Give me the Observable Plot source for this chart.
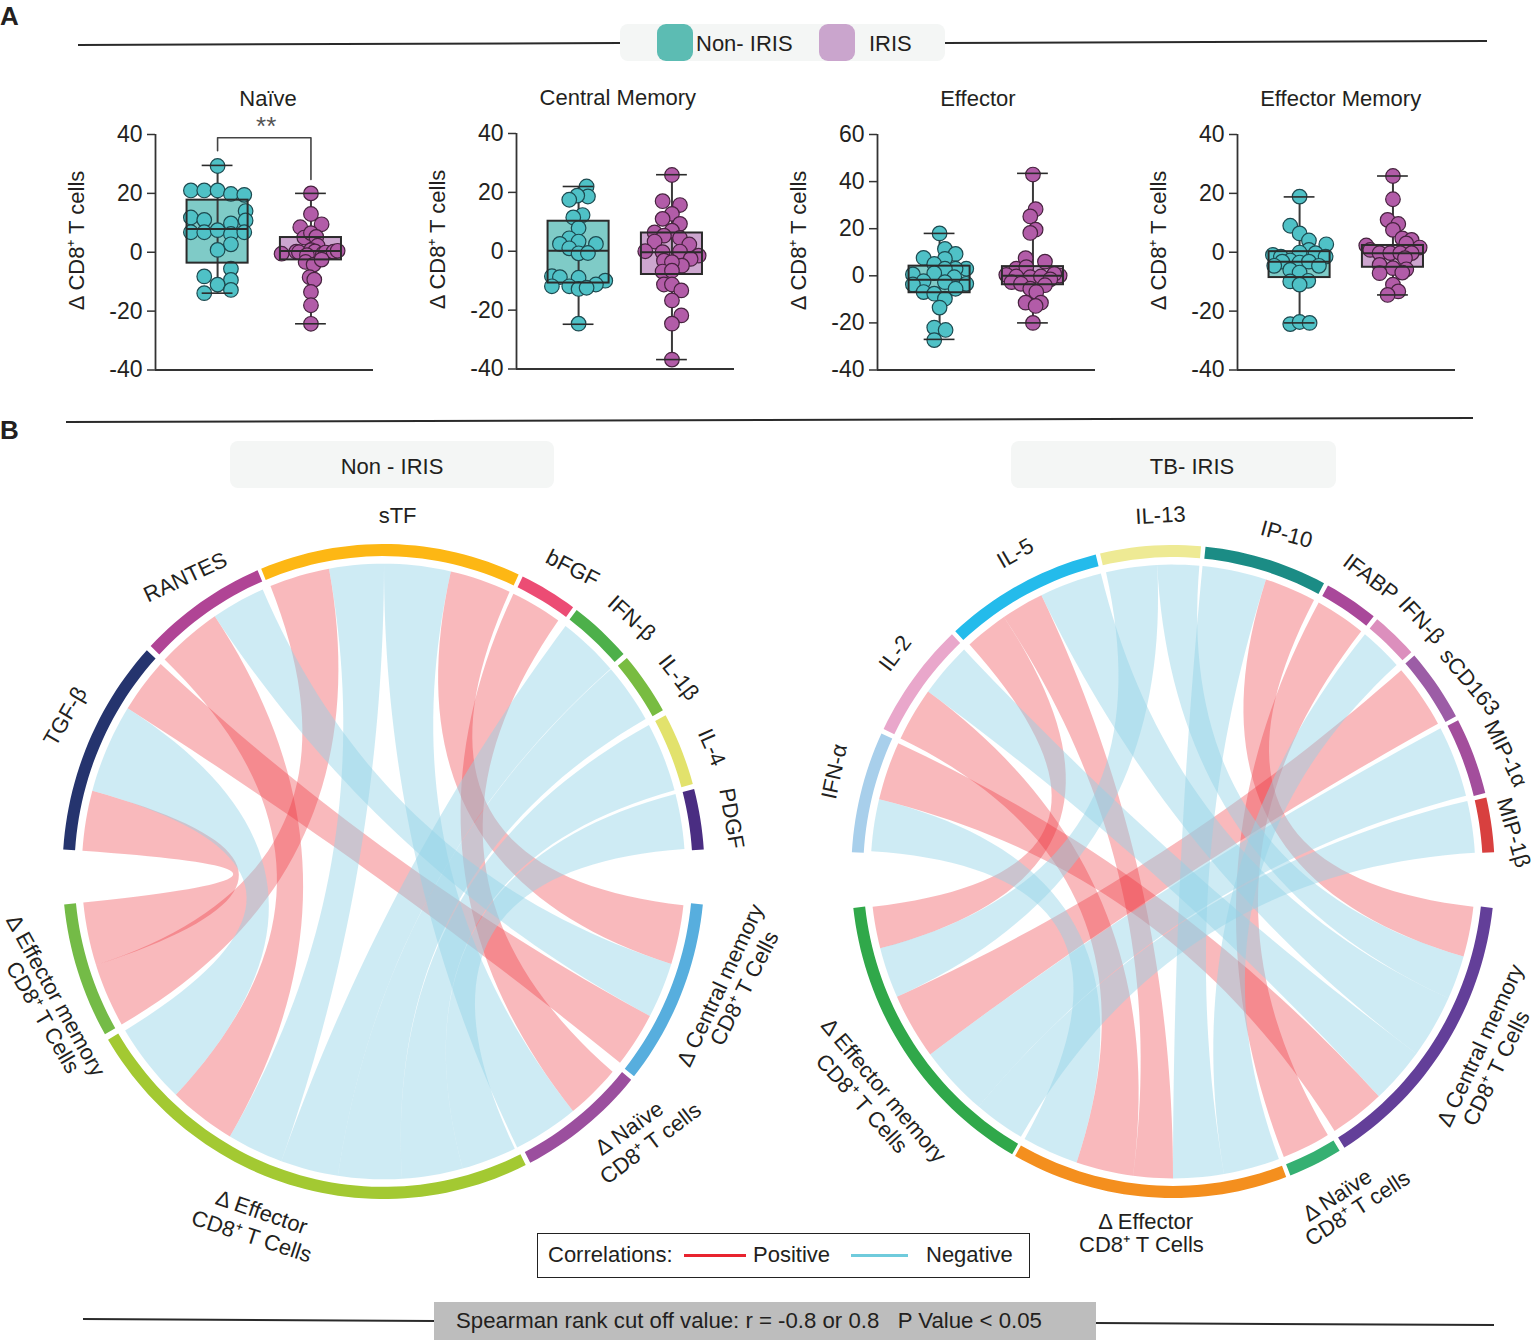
<!DOCTYPE html>
<html><head><meta charset="utf-8">
<script src="https://cdn.jsdelivr.net/npm/d3@7"></script>
<script src="https://cdn.jsdelivr.net/npm/@observablehq/plot@0.6"></script>
<style>
html,body{margin:0;padding:0;background:#fff}
#page{position:relative;width:1535px;height:1340px;overflow:hidden;font-family:"Liberation Sans",Arial,sans-serif;color:#231f20;font-size:22px}
#page>div{position:absolute;white-space:pre;line-height:1}
.holder svg{overflow:visible;background:transparent;display:block;max-width:none}
.rule{height:1.5px;background:#2a2a2a;transform-origin:0 50%}
.pill{background:#f4f6f5;border-radius:8px;display:flex;align-items:center;justify-content:center}
</style></head><body>
<div id="page">
  <div style="left:0;top:3px;font-size:26px;font-weight:bold">A</div>
  <div style="left:0;top:417px;font-size:26px;font-weight:bold">B</div>
  <div class="rule" style="left:78px;top:44px;width:542px;transform:rotate(-.21deg)"></div>
  <div class="rule" style="left:945px;top:42px;width:542px;transform:rotate(-.21deg)"></div>
  <div class="rule" style="left:66px;top:421px;width:1407px;transform:rotate(-.163deg)"></div>
  <div class="rule" style="left:83px;top:1318px;width:351px;transform:rotate(.33deg)"></div>
  <div class="rule" style="left:1096px;top:1322px;width:398px;transform:rotate(.29deg)"></div>
  <div class="pill" style="left:620px;top:24px;width:325px;height:37px"></div>
  <div style="left:657px;top:24px;width:36px;height:37px;border-radius:9px;background:#5cbcb3"></div>
  <div style="left:696px;top:33px">Non- IRIS</div>
  <div style="left:819px;top:24px;width:36px;height:37px;border-radius:9px;background:#caa5cd"></div>
  <div style="left:869px;top:33px">IRIS</div>
  <div class="pill" style="left:230px;top:441px;width:324px;height:47px;padding-top:4px;box-sizing:border-box">Non - IRIS</div>
  <div class="pill" style="left:1011px;top:441px;width:325px;height:47px;padding:4px 0 0 37px;box-sizing:border-box">TB- IRIS</div>
  <div style="left:537px;top:1233px;width:491px;height:43px;border:1.5px solid #222;box-sizing:content-box"></div>
  <div style="left:548px;top:1244px">Correlations:</div>
  <div style="left:684px;top:1254px;width:62px;height:2.5px;background:#e8232f"></div>
  <div style="left:753px;top:1244px">Positive</div>
  <div style="left:851px;top:1254px;width:57px;height:2.5px;background:#6fcbdc"></div>
  <div style="left:926px;top:1244px">Negative</div>
  <div style="left:434px;top:1302px;width:662px;height:38px;background:#bdbdbd"></div>
  <div style="left:456px;top:1310px;font-size:22.2px">Spearman rank cut off value: r = -0.8 or 0.8   P Value &lt; 0.05</div>
</div>
<script>
// ---------- Panel A: delta CD8+ T cell subsets. Each point = [swarm column, value]
const naiveNon = [[0,29.3],[-2,21],[-1,21],[0,21],[1,19.8],[2,19.5],[2.1,14],[-2,11.8],[-1,11],[1,9.8],[2.1,10.8],[-2,6.8],[-1,6.8],[0,7.5],[1,6.2],[2,6.8],[1,2.7],[0,0.8],[1,-5.6],[-1,-8.2],[1,-9.4],[0,-11],[1,-12.8],[-1,-13.9]];
const naiveIris = [[0,20],[0,13],[-.8,8.5],[.8,9.5],[-.5,5],[0,6.5],[.4,5.2],[.5,2.2],[-2.2,-.5],[-1.1,.2],[-.9,0],[0,.7],[.3,.3],[.9,-.5],[1.1,-.1],[1.7,.2],[2,.5],[-.3,-1],[-.4,-3.3],[.2,-4.2],[.8,-2.5],[-.1,-8.5],[.25,-9.3],[0,-13.5],[0,-18],[0,-24.3]];
const centralNon = [[.6,22],[.7,18.6],[-.1,18.9],[-.7,17.5],[.3,12.3],[-.4,11.5],[0,7.9],[-.7,4.4],[0,3.3],[-1.4,2.5],[1.3,2.5],[-.7,1],[0,-.7],[.7,-.6],[-2,-8.5],[-1.4,-8.8],[0,-9],[2,-10],[1.3,-11.3],[-2,-11.9],[-.7,-11.9],[0,-12.8],[.6,-12.4],[0,-24.6]];
const centralIris = [[0,25.9],[-.7,17],[.6,15.7],[0,12.7],[-.7,11],[.6,9.3],[-1.3,6.4],[0,7],[-.6,5.3],[.6,4.5],[-1.3,3.3],[1.3,2.3],[-2,0],[-.7,-.3],[.6,-.1],[2,-1.5],[1.4,-2.6],[-.6,-3.2],[.75,-4.9],[0,-3.7],[-.7,-6.9],[0,-6.6],[-.6,-11.3],[0,-11.3],[.7,-13.3],[0,-16.7],[.7,-21.8],[0,-24.6],[0,-36.8]];
const effectorNon = [[0,18],[.4,11.4],[1.2,9.3],[-1.2,7.6],[.4,7.2],[-.4,5],[2,3],[1.2,3],[.4,3],[-2,.6],[-.4,1.1],[1.1,-.6],[-1.2,-2.3],[.4,-2.7],[-2,-3.7],[2,-3.4],[1.2,-5.5],[-1.2,-6.9],[-.4,-7.6],[.4,-9.7],[0,-13.5],[-.4,-22],[.45,-23],[-.4,-27.3]];
const effectorIris = [[0,43],[.2,28.3],[-.2,25.2],[.2,19.6],[-.2,18.2],[-.55,7.5],[.9,6],[-1.25,3],[-.5,3.7],[-2,.4],[-1.25,-.3],[-.2,-.6],[.6,-.3],[2,.1],[1.6,.8],[1.3,-1.5],[-1.6,-2.7],[-.9,-3.4],[.9,-4],[-.2,-5.5],[.25,-6.9],[-.55,-11.4],[.6,-11.4],[.2,-12.8],[0,-20]];
const effMemNon = [[0,18.9],[-.7,9],[0,6.4],[.7,4],[2,2.7],[.7,.8],[0,-.1],[1.2,-.3],[-2,-.9],[-1.4,-1.5],[1.95,-1.5],[-.7,-2.8],[-1.3,-3.2],[0,-3.5],[.7,-3.2],[-1.9,-4.6],[1.45,-4.6],[-.7,-6],[0,-6.9],[-.7,-9.9],[.65,-9.7],[0,-11],[-.7,-24.4],[0,-23.7],[.75,-24]];
const effMemIris = [[0,25.9],[0,18],[-.4,11],[.4,9.6],[0,7.6],[.7,4.7],[1.4,4.2],[-2,2.3],[1,3],[2,1.6],[-1.7,.8],[-1,-.3],[-.2,-.3],[.55,-.3],[1.4,-.3],[.9,-2],[-1,-4.3],[0,-5.4],[1,-5.8],[-1,-7.1],[.7,-6.9],[0,-11],[.4,-13.3],[-.4,-14.5]];

// box statistics: lo whisker, q1, median, q3, hi whisker
const naiveBoxes = [[-13.9,-3.7,7.9,17.7,29.5],[-24.3,-2.6,.4,5,20]];
const centralBoxes = [[-24.8,-10.8,.2,10.2,22],[-36.8,-7.9,-.3,6.2,26]];
const effectorBoxes = [[-27,-7.2,-1.7,4.1,18],[-20,-3.8,0,3.9,43.5]];
const effMemBoxes = [[-24,-8.6,-3.2,.2,18.8],[-14.5,-5.1,-.3,2.3,25.9]];

const panelTitles = ["Naïve","Central Memory","Effector","Effector Memory"];
const yLabel = "Δ CD8⁺ T cells";
const ticks4 = [-40,-20,0,20,40];
const ticks6 = [-40,-20,0,20,40,60];

// ---------- Panel B: chord diagrams. Degrees clockwise from 12 o'clock.
const leftSectorNames = ["TGF-β","RANTES","sTF","bFGF","IFN-β","IL-1β","IL-4","PDGF","Δ Central memory","Δ Naïve","Δ Effector","Δ Effector memory"];
const leftSectorStart = [273.85,313.5,337.6,25.7,37,49.3,61.5,75.4,95.8,129.5,153.7,240.2];
const leftSectorEnd   = [312.5,336.9,384.9,36.2,48.4,60.5,74.5,86.15,128.7,152.8,239.1,264.2];
const leftSectorColor = ["#25346e","#b04495","#fdb714","#ec4c74","#4db04a","#78bc41","#e2e26c","#4a2d82","#57aede","#9b4f9e","#a3c932","#74bb47"];
// sign, cytokine extent a1,a2; cell extent b1,b2
const leftLinks = [
 ["pos",273.85,285.2,252.3,264.2],["neg",285.2,302,223.5,238.9],["pos",302,312.4,118,128.4],
 ["pos",313.5,326,210.6,223.5],["neg",326,336.4,107.5,118],["pos",338,349.6,240.2,252.3],
 ["neg",349.6,360.1,199.8,210.6],["neg",.1,12.9,141.1,153.7],["pos",12.9,24.7,96.3,107.5],
 ["pos",25.5,35.4,130.6,141.1],["neg",37.1,48.8,188.7,199.8],["neg",48.9,60.3,176.5,188.7],
 ["neg",61.6,74.7,164.8,176.5],["neg",75.4,85.8,154.2,164.8]];
const leftLabelText = ["sTF","RANTES","bFGF","IFN-β","IL-1β","IL-4","PDGF","TGF-β","Δ Effector memory","CD8⁺ T Cells","Δ Effector","CD8⁺ T Cells","Δ Naïve","CD8⁺ T cells","Δ Central memory","CD8⁺ T Cells"];
const leftLabelX = [.044,-.617,.589,.773,.919,1.022,1.084,-.991,-1.022,-1.062,-.38,-.411,.766,.832,1.05,1.125];
const leftLabelY = [1.087,.898,.925,.773,.592,.379,.162,.473,-.379,-.446,-1.041,-1.115,-.785,-.831,-.348,-.357];
const leftLabelRot = [0,-25,27,42,52,66,80,-60,61,60,19,18,-35,-37,-65,-63];

const rightSectorNames = ["IFN-α","IL-2","IL-5","IL-13","IP-10","IFABP","IFN-β","sCD163","MIP-1α","MIP-1β","Δ Central memory","Δ Naïve","Δ Effector","Δ Effector memory"];
const rightSectorStart = [273.4,295.9,317.4,346.9,5.8,28.8,39.4,48.6,62.4,76.9,96.4,148.8,159.4,210];
const rightSectorEnd   = [295,316.6,346.1,365,28,38.6,47.8,61.6,76.1,86.6,147.8,158.6,209.4,263.6];
const rightSectorColor = ["#a8cfeb","#e9a7cb","#24bbeb","#eeea94","#1b8c85","#a9489a","#dc8fbd","#9c5da6","#a34e9c","#d8403f","#633f99","#35b072","#f48f1e","#30a84a"];
const rightLinks = [
 ["pos",283.6,294.7,137.1,147.7],["pos",295.7,305.9,187.6,198.6],["pos",317.7,326,255.5,263.4],
 ["pos",326,334.2,180,187.6],["pos",17.9,27.8,96.6,106.1],["pos",28.8,38.5,149.2,158.5],["pos",49,61.2,233.4,245.9],
 ["neg",273.8,283.6,198.6,209.4],["neg",305.9,316.3,126.4,137.1],["neg",334.2,346.2,114.4,126.4],
 ["neg",347.2,357,245.9,255.5],["neg",357,365,106.1,114.4],["neg",5.6,17.9,170.3,180],
 ["neg",39.4,47.7,159.5,170.3],["neg",62.2,75.7,220,233.4],["neg",76.7,86.5,210.2,220]];
const rightLabelText = ["IL-13","IP-10","IL-5","IL-2","IFN-α","IFABP","IFN-β","sCD163","MIP-1α","MIP-1β","Δ Central memory","CD8⁺ T Cells","Δ Naïve","CD8⁺ T cells","Δ Effector","CD8⁺ T Cells","Δ Effector memory","CD8⁺ T Cells"];
const rightLabelX = [-.039,.353,-.49,-.863,-1.052,.614,.772,.922,1.034,1.058,.956,1.006,.511,.574,-.085,-.098,-.9,-.968];
const rightLabelY = [1.09,1.032,.974,.668,.306,.9,.769,.58,.361,.119,-.533,-.603,-.992,-1.032,-1.072,-1.145,-.671,-.711];
const rightLabelRot = [-3,15,-30,-53,-78,37,47,50,64,74,-65,-64,-33,-33,0,0,50,48];

// ---------- drawing
const FONT = '"Liberation Sans",Arial,sans-serif';
const INK = "#231f20";
const page = document.getElementById("page");
function place(svg,left,top){
  const h=document.createElement("div");h.className="holder";
  h.style.left=left+"px";h.style.top=top+"px";h.appendChild(svg);page.appendChild(h);
}
const nonStyle = {dot:"#4fc1c6",dotStroke:"#1d4a50",box:"#7fcbc7"};
const irisStyle = {dot:"#b25ca8",dotStroke:"#47233f",box:"#cda6cf"};
const STEP = .1429, BOXW = .327, CAP = .165;

function boxPanel(i,non,iris,boxes,ticks,domain,axisLeft,axisTop,labelValue,extra=[]){
  const mL=100,mT=50,mB=25,mR=6,W=218,H=235.5;
  const pts=[...non.map(d=>({x:d[0]*STEP,y:d[1],g:0})),...iris.map(d=>({x:1+d[0]*STEP,y:d[1],g:1}))];
  const st=boxes.map((b,g)=>({g,lo:b[0],q1:b[1],med:b[2],q3:b[3],hi:b[4]}));
  const svg=Plot.plot({
    width:mL+W+mR,height:mT+H+mB,marginLeft:mL,marginTop:mT,marginBottom:mB,marginRight:mR,
    style:{fontFamily:FONT,background:"transparent",overflow:"visible",color:INK},
    x:{domain:[-.665,1.67],axis:null},
    y:{domain,axis:null},
    marks:[
      Plot.rect(st,{x1:d=>d.g-BOXW,x2:d=>d.g+BOXW,y1:"q1",y2:"q3",fill:d=>[nonStyle,irisStyle][d.g].box}),
      Plot.ruleX(st,{x:"g",y1:"lo",y2:"hi",stroke:"#3a3a3a",strokeWidth:2}),
      Plot.dot(pts,{x:"x",y:"y",r:7.3,fill:d=>[nonStyle,irisStyle][d.g].dot,stroke:d=>[nonStyle,irisStyle][d.g].dotStroke,strokeWidth:1.2}),
      Plot.rect(st,{x1:d=>d.g-BOXW,x2:d=>d.g+BOXW,y1:"q1",y2:"q3",fill:"none",stroke:"#2b2b2b",strokeWidth:2}),
      Plot.ruleY(st,{y:"med",x1:d=>d.g-BOXW,x2:d=>d.g+BOXW,stroke:"#2b2b2b",strokeWidth:2}),
      Plot.ruleY(st,{y:"hi",x1:d=>d.g-CAP,x2:d=>d.g+CAP,stroke:"#2b2b2b",strokeWidth:1.6}),
      Plot.ruleY(st,{y:"lo",x1:d=>d.g-CAP,x2:d=>d.g+CAP,stroke:"#2b2b2b",strokeWidth:1.6}),
      Plot.axisY({ticks,tickSize:8,tickPadding:5,fontSize:23,label:null,tickFormat:d=>String(d),stroke:"#333",strokeWidth:1.5,fill:INK}),
      Plot.ruleX([-.665],{stroke:"#333",strokeWidth:1.8}),
      Plot.ruleY([domain[0]],{stroke:"#333",strokeWidth:1.8}),
      Plot.text([yLabel],{frameAnchor:"left",textAnchor:"middle",y:[labelValue],dx:-79,rotate:-90,fontSize:22,fill:INK}),
      Plot.text([panelTitles[i]],{x:[[.54,.42,.41,.44][i]],y:[domain[1]],dy:-36,fontSize:22,fill:INK}),
      ...extra
    ]
  });
  place(svg,axisLeft-mL,axisTop-mT);
}
const bracket=[{x:0,y:34.5},{x:0,y:38.9},{x:1,y:38.9},{x:1,y:24.7}];
boxPanel(0,naiveNon,naiveIris,naiveBoxes,ticks4,[-40,40],155,134.3,4,[
  Plot.line(bracket,{x:"x",y:"y",stroke:"#444",strokeWidth:1.6}),
  Plot.text(["**"],{x:[.52],y:[42.5],fontSize:26,fill:"#555"})
]);
boxPanel(1,centralNon,centralIris,centralBoxes,ticks4,[-40,40],516,132.7,4);
boxPanel(2,effectorNon,effectorIris,effectorBoxes,ticks6,[-40,60],876.7,133.6,15);
boxPanel(3,effMemNon,effMemIris,effMemBoxes,ticks4,[-40,40],1237.3,134.3,4);

// geometry of the chord diagrams, in a unit circle
const RINK=.94, ROUT=1, RIN=.963;
const polar=(deg,r)=>{const a=deg*Math.PI/180;return [r*Math.sin(a),r*Math.cos(a)];};
function arcPts(d1,d2,r){const n=Math.max(2,Math.ceil(Math.abs(d2-d1)/1.5));return d3.range(n+1).map(k=>polar(d1+(d2-d1)*k/n,r));}
function curvePts(d1,d2){
  const p=polar(d1,RINK),q=polar(d2,RINK);
  return d3.range(1,40).map(k=>{const t=k/40,u=1-t;return [u*u*p[0]+t*t*q[0],u*u*p[1]+t*t*q[1]];});
}
function ribbon(l){
  const [,a1,a2,b1,b2]=l;
  return [...arcPts(a1,a2,RINK),...curvePts(a2,b1),...arcPts(b1,b2,RINK),...curvePts(b2,a1)];
}
function sectorPoly(s,e){return [...arcPts(s,e,ROUT),...arcPts(e,s,RIN)];}
function polyRows(list){return list.flatMap((p,i)=>p.map(([x,y])=>({x,y,id:i})));}

function chord(names,starts,ends,colors,links,lt,lx,ly,lr,cxPx,cyPx,rxPx,ryPx,left,top,right,bottom){
  const pos=links.filter(l=>l[0]==="pos").map(ribbon), neg=links.filter(l=>l[0]==="neg").map(ribbon);
  const secs=names.map((n,i)=>sectorPoly(starts[i],ends[i]));
  const secRows=secs.flatMap((p,i)=>p.map(([x,y])=>({x,y,name:names[i],c:colors[i]})));
  const labels=lt.map((t,i)=>({t,x:lx[i],y:ly[i],r:lr[i]}));
  const svg=Plot.plot({
    width:right-left,height:bottom-top,
    marginLeft:cxPx-rxPx-left,marginRight:right-cxPx-rxPx,marginTop:cyPx-ryPx-top,marginBottom:bottom-cyPx-ryPx,
    style:{fontFamily:FONT,background:"transparent",overflow:"visible",color:INK},
    x:{domain:[-1,1],axis:null},y:{domain:[-1,1],axis:null},
    marks:[
      Plot.line(polyRows(pos),{x:"x",y:"y",z:"id",fill:"#ec2a33",fillOpacity:.33,stroke:"none"}),
      Plot.line(polyRows(neg),{x:"x",y:"y",z:"id",fill:"#92d2e6",fillOpacity:.45,stroke:"none"}),
      Plot.line(secRows,{x:"x",y:"y",z:"name",fill:"c",stroke:"none"}),
      Plot.text(labels,{x:"x",y:"y",text:"t",rotate:"r",fontSize:22,fill:INK})
    ]
  });
  place(svg,left,top);
}
chord(leftSectorNames,leftSectorStart,leftSectorEnd,leftSectorColor,leftLinks,leftLabelText,leftLabelX,leftLabelY,leftLabelRot,383,871,321,327.5,0,500,780,1270);
chord(rightSectorNames,rightSectorStart,rightSectorEnd,rightSectorColor,rightLinks,rightLabelText,rightLabelX,rightLabelY,rightLabelRot,1172.5,871,321.7,326.5,780,500,1535,1270);
</script>
</body></html>
